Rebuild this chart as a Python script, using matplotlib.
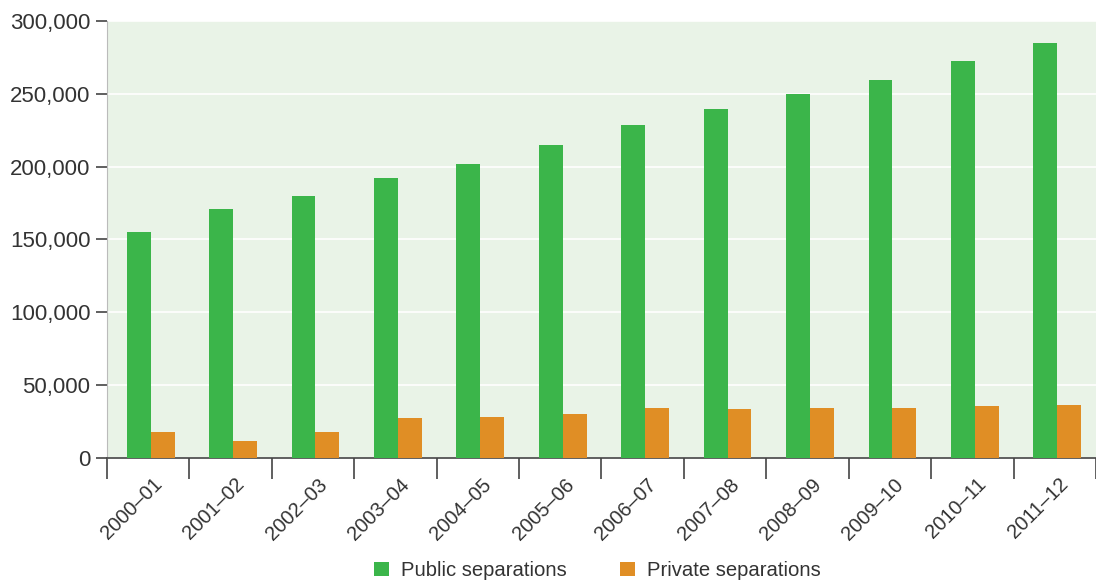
import numpy as np
import matplotlib.pyplot as plt
from matplotlib.ticker import FuncFormatter, FixedLocator

plt.rcParams['font.family'] = ['Liberation Sans', 'DejaVu Sans']

years = ['2000–01', '2001–02', '2002–03', '2003–04', '2004–05', '2005–06',
         '2006–07', '2007–08', '2008–09', '2009–10', '2010–11', '2011–12']
public = [155000, 171000, 180000, 192000, 202000, 215000,
          228500, 239500, 250000, 259500, 272500, 285000]
private = [17800, 11700, 17800, 27500, 28000, 30000,
           34000, 33600, 34300, 34300, 35700, 36400]

green = '#3bb54a'
orange = '#e08e25'
text_col = '#333333'

fig = plt.figure(figsize=(10.96, 5.81), dpi=100)
ax = fig.add_axes([0.0976, 0.2117, 0.9024, 0.7522])
ax.set_facecolor('#e9f3e7')

x = np.arange(len(years))
w = 0.29
ax.bar(x - w / 2 + 0.03, public, w, color=green, label='Public separations', zorder=3)
ax.bar(x + w / 2 + 0.03, private, w, color=orange, label='Private separations', zorder=3)

ax.set_xlim(-0.5, len(years) - 0.5)
ax.set_ylim(0, 300000)
ax.set_yticks(np.arange(0, 300001, 50000))
ax.yaxis.set_major_formatter(FuncFormatter(lambda v, p: f'{int(v):,}'))
ax.grid(axis='y', color='white', linewidth=1.2, zorder=1)
ax.set_axisbelow(True)

# labels at group centres, tick marks at group boundaries
ax.set_xticks(x + 0.05)
ax.set_xticklabels(years, rotation=45, ha='right', va='top', rotation_mode='anchor')
ax.xaxis.set_minor_locator(FixedLocator(np.arange(-0.5, len(years), 1.0)))
ax.tick_params(axis='x', which='major', length=0, pad=12, labelsize=14.5, labelcolor=text_col)
ax.tick_params(axis='x', which='minor', length=15, width=1.2, color='#444444')
ax.tick_params(axis='y', length=8, width=1.2, color='#444444', labelsize=16,
               labelcolor=text_col, pad=4)

for side in ['top', 'right']:
    ax.spines[side].set_visible(False)
ax.spines['left'].set_color('#bbbbbb')
ax.spines['bottom'].set_color('#444444')
ax.spines['bottom'].set_linewidth(1.2)

fig.legend(loc='center', bbox_to_anchor=(0.545, 0.018), ncol=2, frameon=False,
           fontsize=14.6, handlelength=0.75, handleheight=0.75, columnspacing=2.6,
           handletextpad=0.6, labelcolor=text_col)

fig.savefig('out.png', dpi=100)
